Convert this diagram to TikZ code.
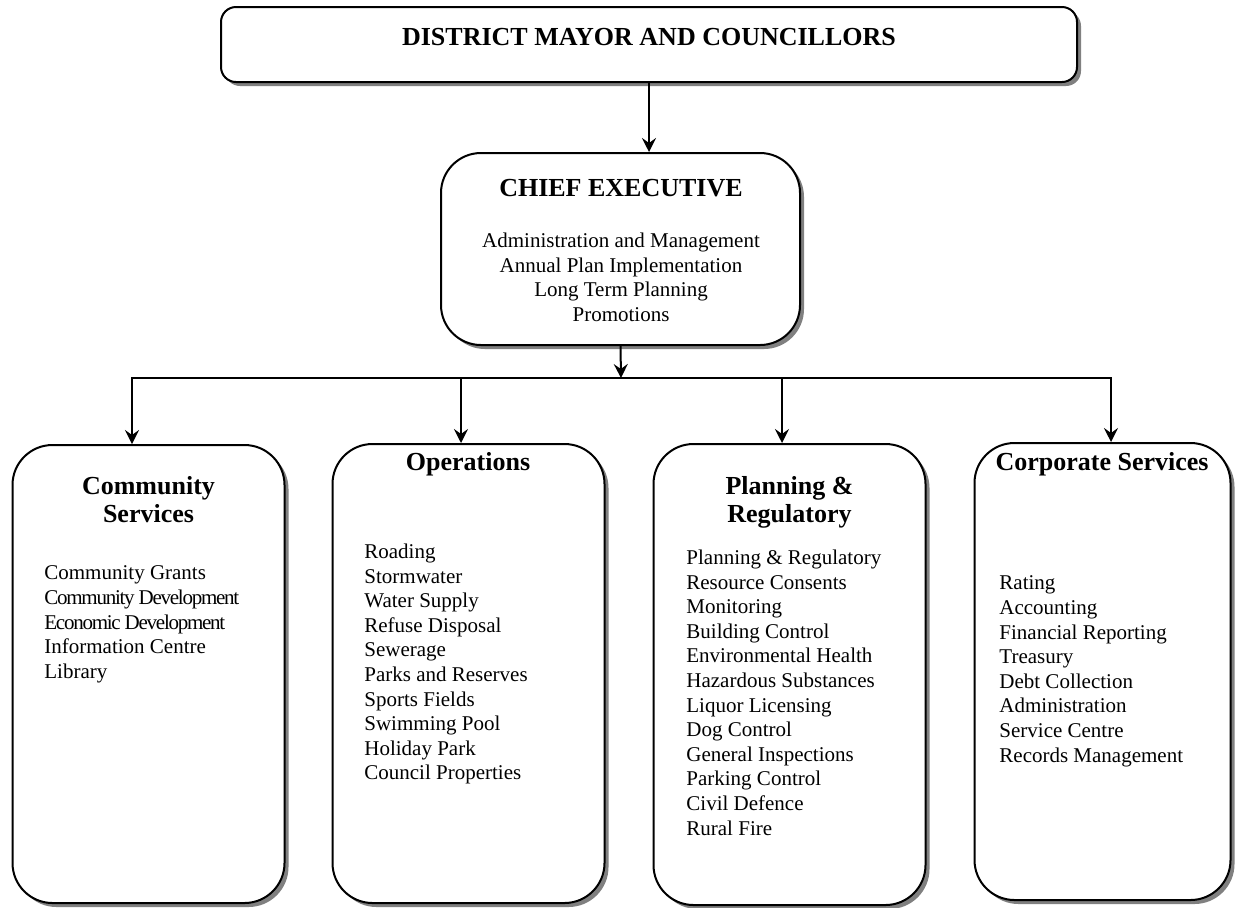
\documentclass[tikz,border=0pt]{standalone}
\usepackage{fontspec}
\setmainfont{Liberation Serif}
\usetikzlibrary{arrows.meta,shadows}

\begin{document}
\begin{tikzpicture}[
  x=0.5pt, y=-0.5pt,
  box/.style={draw, line width=1pt, fill=white, rounded corners=20pt,
    drop shadow={shadow xshift=2pt, shadow yshift=-2pt, fill=black!50, opacity=1}},
  head/.style={font=\bfseries\fontsize{13}{14}\selectfont, align=center, inner sep=0pt},
  list/.style={font=\fontsize{10.5}{12.3}\selectfont, align=left, inner sep=0pt, anchor=north west},
  tight/.style={},
  arrow/.style={-{Stealth[length=7pt, width=7pt, inset=2.5pt]}, line width=1pt}
]
\useasboundingbox (0,0) rectangle (1240,907);

\node[box, rounded corners=7.5pt, minimum width=428pt, minimum height=37.5pt] (mayor) at (649,44.5) {};
\node[box, minimum width=179.5pt, minimum height=96pt] (chief) at (620.5,249) {};
\node[box, minimum width=136pt, minimum height=229pt] (comm) at (148.5,674) {};
\node[box, minimum width=136pt, minimum height=229.5pt] (ops) at (468.5,673.5) {};
\node[box, minimum width=136pt, minimum height=230.5pt] (plan) at (789.5,674.5) {};
\node[box, minimum width=128pt, minimum height=228.5pt] (corp) at (1102.5,671.5) {};

\node[head, anchor=base] (mayorhead) at (649,45) {DISTRICT MAYOR AND COUNCILLORS};
\node[head, anchor=base] (chiefhead) at (621,196) {CHIEF EXECUTIVE};
\node[list, anchor=north, align=center] (chieflist) at (621,232.5)
  {Administration and Management\\Annual Plan Implementation\\Long Term Planning\\Promotions};

\node[head, anchor=north] (commhead) at (148.5,476) {Community\\Services};
\node[head, anchor=base] (opshead) at (468,470) {Operations};
\node[head, anchor=north] (planhead) at (789.5,476) {Planning \&\\Regulatory};
\node[head, anchor=base] (corphead) at (1102,470) {Corporate Services};

\node[list] (commlist) at (44,565.5)
  {Community Grants\\
   {\addfontfeatures{LetterSpace=-6}Community Development}\\
   {\addfontfeatures{LetterSpace=-6}Economic Development}\\
   Information Centre\\Library};
\node[list] (opslist) at (364,543.5)
  {Roading\\Stormwater\\Water Supply\\Refuse Disposal\\Sewerage\\
   Parks and Reserves\\Sports Fields\\Swimming Pool\\Holiday Park\\Council Properties};
\node[list] (planlist) at (686,549.5)
  {Planning \& Regulatory\\Resource Consents\\Monitoring\\Building Control\\
   Environmental Health\\Hazardous Substances\\Liquor Licensing\\Dog Control\\
   General Inspections\\Parking Control\\Civil Defence\\Rural Fire};
\node[list] (corplist) at (999,575.5)
  {Rating\\Accounting\\Financial Reporting\\Treasury\\Debt Collection\\
   Administration\\Service Centre\\Records Management};

\coordinate (bus) at (621,378);
\coordinate (d1) at (132,378);
\coordinate (d2) at (461,378);
\coordinate (d3) at (782,378);
\coordinate (d4) at (1111,378);

\draw[arrow] (mayor.south) -- (mayor.south |- chief.north);
\draw[arrow] (chief.south) -- (bus);
\draw[line width=1pt, line cap=rect] (d1) -- (d4);
\draw[arrow] (d1) -- (d1 |- comm.north);
\draw[arrow] (d2) -- (d2 |- ops.north);
\draw[arrow] (d3) -- (d3 |- plan.north);
\draw[arrow] (d4) -- (d4 |- corp.north);
\end{tikzpicture}
\end{document}
